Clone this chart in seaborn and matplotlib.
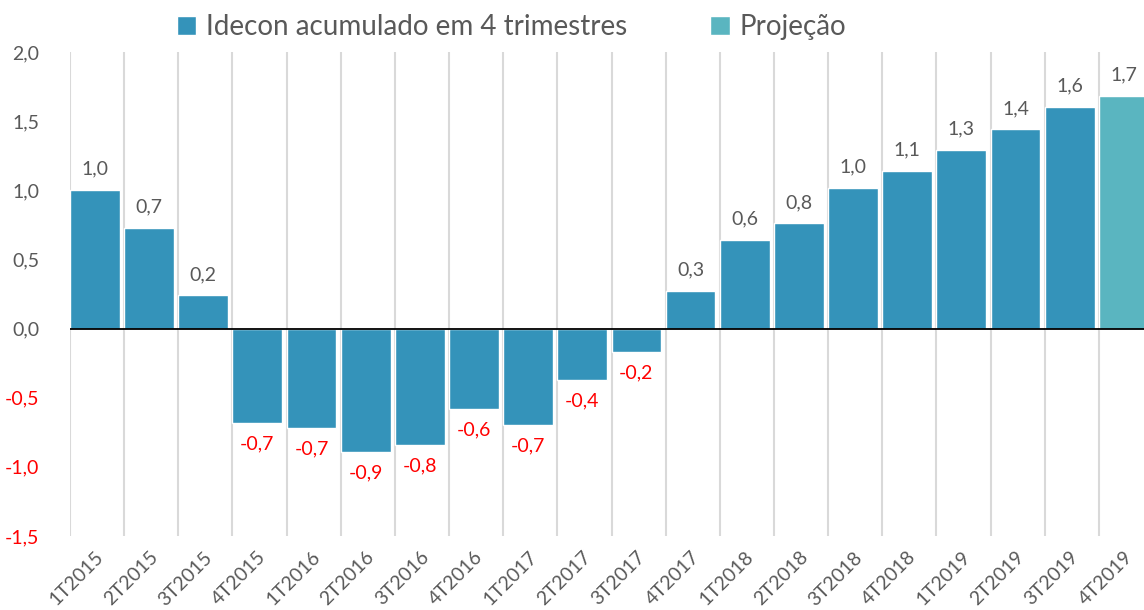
import matplotlib
matplotlib.use("Agg")
import matplotlib.pyplot as plt
import seaborn as sns
import pandas as pd

trimestres = ["1T2015", "2T2015", "3T2015", "4T2015", "1T2016", "2T2016", "3T2016",
              "4T2016", "1T2017", "2T2017", "3T2017", "4T2017", "1T2018", "2T2018",
              "3T2018", "4T2018", "1T2019", "2T2019", "3T2019", "4T2019"]
idecon = [1.00, 0.73, 0.24, -0.68, -0.72, -0.89, -0.84, -0.58, -0.70, -0.37, -0.17,
          0.27, 0.64, 0.76, 1.02, 1.14, 1.29, 1.44, 1.60]
projecao = [1.68]
serie_hist = "Idecon acumulado em 4 trimestres"
serie_proj = "Projeção"
yticks = [-1.5, -1.0, -0.5, 0.0, 0.5, 1.0, 1.5, 2.0]

df = pd.DataFrame({
    "trimestre": trimestres,
    "valor": idecon + projecao,
    "serie": [serie_hist] * len(idecon) + [serie_proj] * len(projecao),
})

sns.set_theme(style="white")
plt.rcParams["font.family"] = ["Lato", "DejaVu Sans"]

GRAY = "#595959"
RED = "#FF0000"
palette = {serie_hist: "#3493BA", serie_proj: "#5AB5C0"}

fig = plt.figure(figsize=(11.44, 6.10), dpi=100)
W, H = 1144, 610
left, right, top, bottom = 70, 1153, 52, 536
ax = fig.add_axes([left / W, 1 - bottom / H, (right - left) / W, (bottom - top) / H])

sns.barplot(data=df, x="trimestre", y="valor", hue="serie", order=trimestres,
            palette=palette, dodge=False, width=0.92, saturation=1,
            ax=ax, legend=True)

n = len(trimestres)
ax.set_xlim(-0.46, n - 0.46)
ax.set_ylim(-1.5, 2.0)

# category separators
for i in range(n):
    ax.axvline(i - 0.46, color="#D9D9D9", lw=1.5, zorder=0)
ax.axhline(0, color="black", lw=1.3, zorder=3)

for s in ax.spines.values():
    s.set_visible(False)
ax.set_xlabel("")
ax.set_ylabel("")

ax.set_yticks(yticks)
ax.set_yticklabels([f"{v:.1f}".replace(".", ",") for v in yticks], fontsize=14)
for lab, v in zip(ax.get_yticklabels(), yticks):
    lab.set_color(RED if v < 0 else GRAY)
ax.tick_params(axis="y", length=0, pad=22)
ax.tick_params(axis="x", length=0, pad=9)
plt.setp(ax.get_xticklabels(), rotation=45, ha="right", rotation_mode="anchor",
         fontsize=14, color=GRAY)

fmt = lambda v: f"{v:.1f}".replace(".", ",")
for cont in ax.containers:
    texts = ax.bar_label(cont, fmt=fmt, padding=9, fontsize=14)
    for t, v in zip(texts, cont.datavalues):
        t.set_color(RED if v < 0 else GRAY)

handles, labels = ax.get_legend_handles_labels()
ax.get_legend().remove()
leg = fig.legend(handles, labels, loc="center", bbox_to_anchor=(0.447, 1 - 27 / H),
                 ncol=2, frameon=False, fontsize=20, handlelength=0.7,
                 handleheight=0.7, handletextpad=0.35, columnspacing=3.0)
for t in leg.get_texts():
    t.set_color(GRAY)

fig.savefig("out.png", dpi=100)
